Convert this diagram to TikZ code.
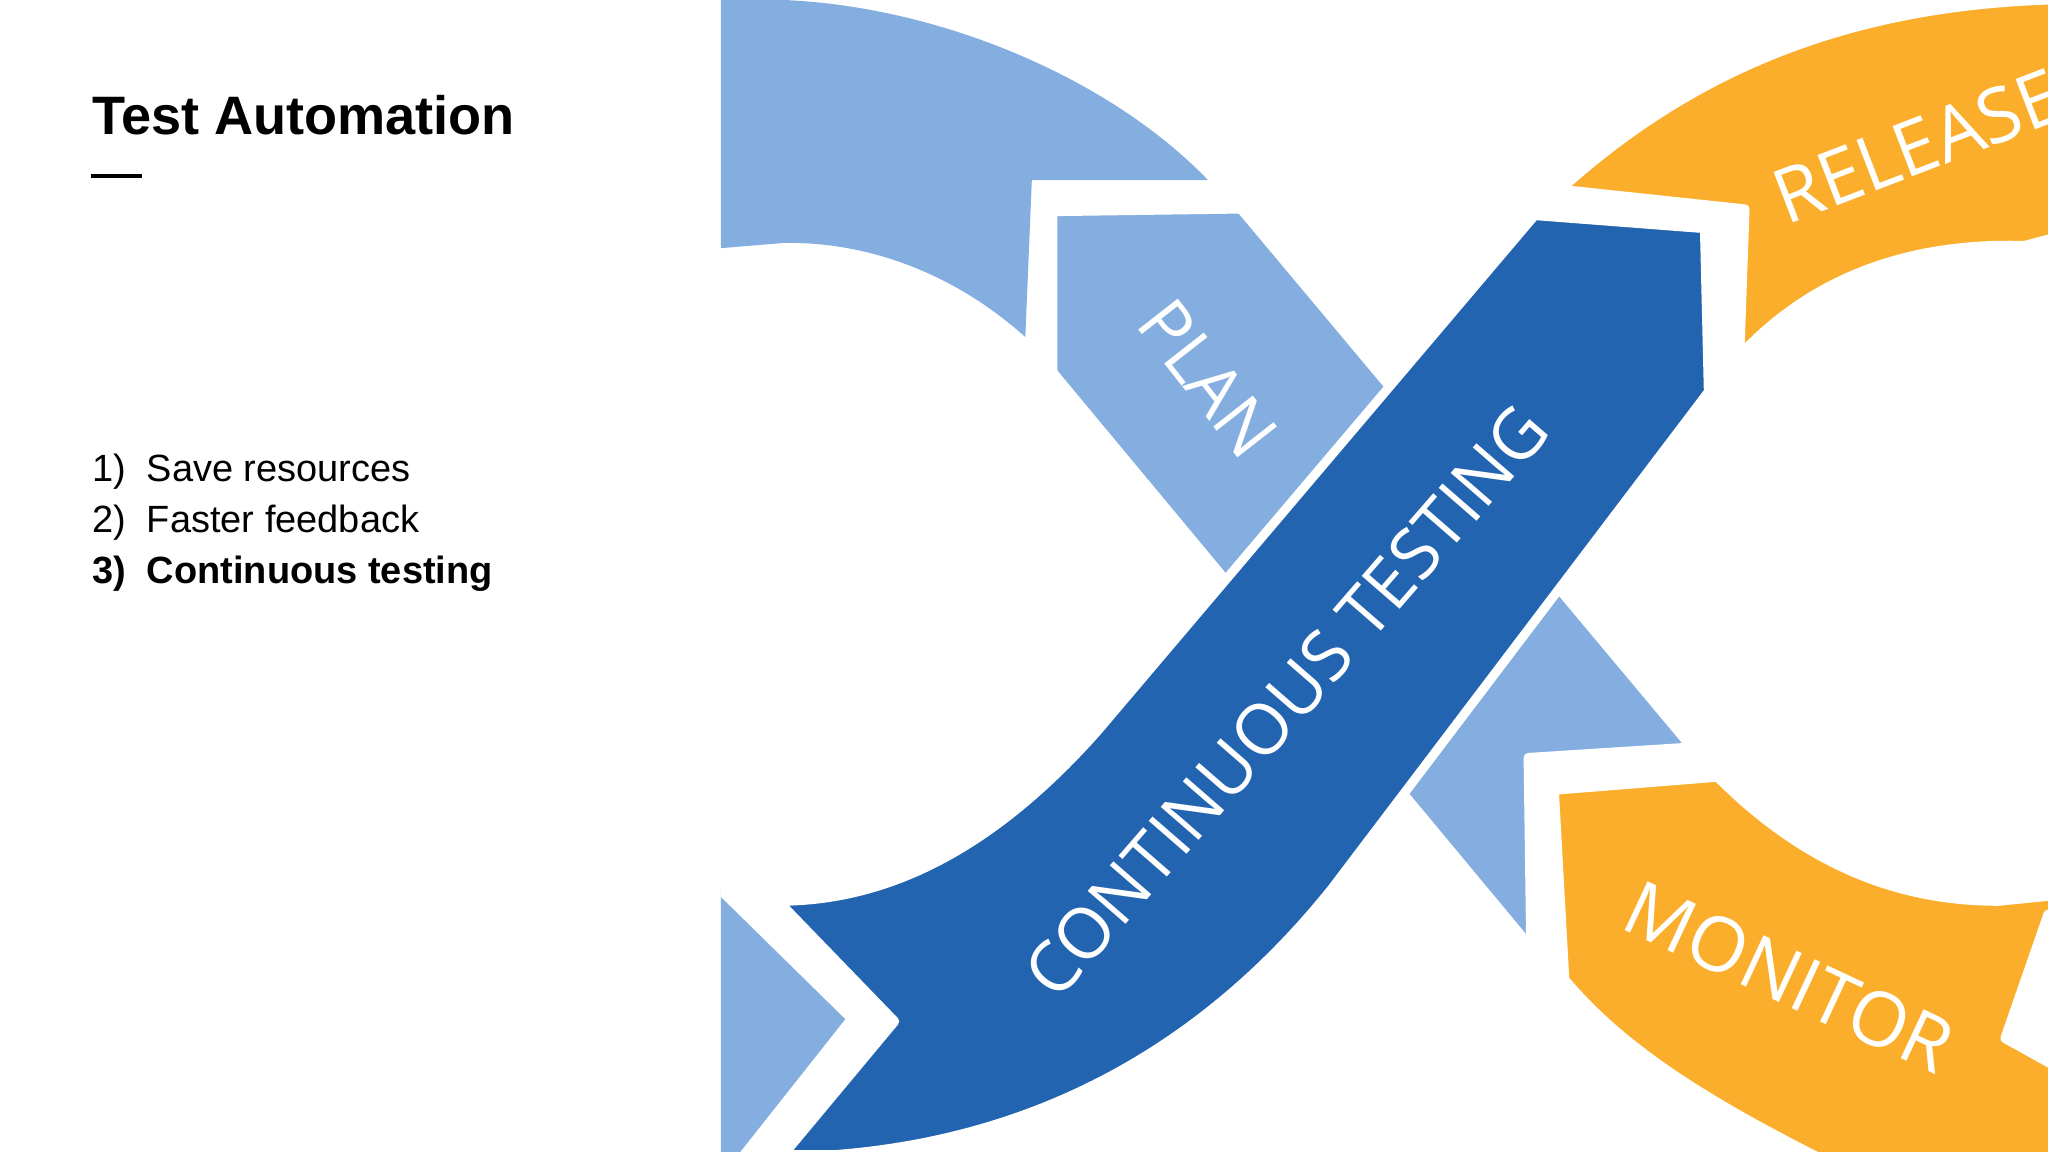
\documentclass[tikz,border=0pt]{standalone}
\usepackage{fontspec}
\setmainfont{Liberation Sans}
\newfontfamily\dfont{Open Sans}
\definecolor{lblue}{HTML}{84AEE0}
\definecolor{dblue}{HTML}{2364B0}
\definecolor{orng}{HTML}{FBAE2C}
\begin{document}
\begin{tikzpicture}[x=0.013061cm,y=-0.013061cm,
  band/.style={draw=white,line width=2.6pt,line join=round},
  lbl/.style={text=white,font=\dfont\fontsize{20}{20}\selectfont},
  item/.style={anchor=west,inner sep=0pt,font=\fontsize{10.8}{13}\selectfont}]
\useasboundingbox (0,0) rectangle (1568,882);
\fill[white] (0,0) rectangle (1568,882);
\node[anchor=base west,inner sep=0pt,font=\bfseries\fontsize{15.4}{18}\selectfont] (title) at (70,103) {Test Automation};
\draw[line width=1.1pt] (70,135) -- (109,135);
\node[item] (i1) at (70,361) {1)\ \ Save resources};
\node[item] (i2) at (70,400) {2)\ \ Faster feedback};
\node[item,font=\bfseries\fontsize{10.8}{13}\selectfont] (i3) at (70,439) {3)\ \ Continuous testing};
\begin{scope}
\clip (552,0) rectangle (1568,882);
\fill[lblue] (552,0) -- (600,0) .. controls (720,5) and (850,60) .. (925,138) -- (790,138) -- (785,258) .. controls (720,200) and (650,185) .. (600,186) -- (552,190) -- cycle;
\filldraw[lblue,band] (806,162) -- (950,160) -- (1295,572) -- (1170,580) -- (1172,725) -- (806,285) -- cycle;
\node[lbl,rotate=-52] (plan) at (925,290) {PLAN};
\filldraw[orng,band] (1195,145) .. controls (1300,50) and (1420,5) .. (1568,0) -- (1580,0) -- (1580,180) -- (1550,188) .. controls (1450,185) and (1380,220) .. (1332,272) -- (1336,160) -- cycle;
\node[lbl,rotate=21,font=\dfont\fontsize{21.5}{21.5}\selectfont] (rel) at (1468,112) {RELEASE};
\filldraw[lblue,band] (540,670) -- (652,780) -- (565,890) -- (540,890) -- cycle;
\filldraw[dblue,band] (1175,165) -- (1305,175) -- (1308,300) -- (1020,680) .. controls (940,780) and (820,870) .. (640,884) -- (600,884) -- (685,782) -- (596,690) .. controls (680,690) and (760,650) .. (840,560) -- cycle;
\node[lbl,rotate=49] (ct) at (985,537) {CONTINUOUS TESTING};
\filldraw[orng,band] (1190,605) -- (1315,595) .. controls (1380,660) and (1450,690) .. (1530,690) -- (1580,685) -- (1580,700) -- (1568,700) -- (1535,795) -- (1580,820) -- (1580,890) -- (1400,890) .. controls (1300,840) and (1240,800) .. (1198,750) -- cycle;
\node[lbl,rotate=-25,font=\dfont\fontsize{21.5}{21.5}\selectfont] (mon) at (1370,748) {MONITOR};
\end{scope}
\end{tikzpicture}
\end{document}
